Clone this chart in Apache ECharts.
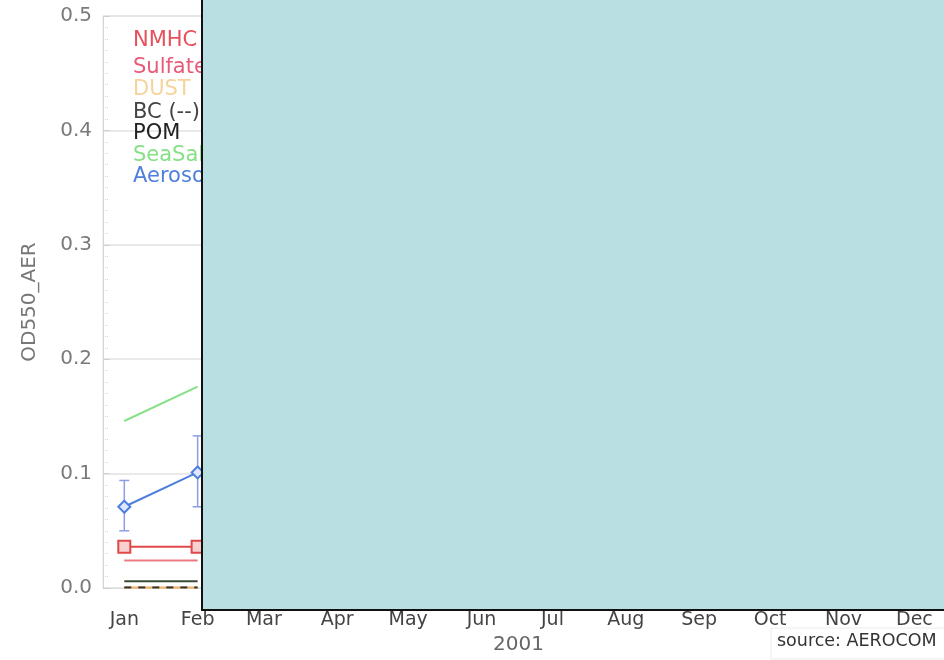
<!DOCTYPE html>
<html>
<head>
<meta charset="utf-8">
<script src="https://cdn.jsdelivr.net/npm/echarts@6/dist/echarts.min.js"></script>
<style>
  html, body { margin: 0; padding: 0; background: #ffffff; }
  #chart { width: 944px; height: 660px; }
</style>
</head>
<body>
<div id="chart"></div>
<script>
// Monthly aerosol optical depth at 550 nm, by component (2001)
const months = ['Jan', 'Feb', 'Mar', 'Apr', 'May', 'Jun', 'Jul', 'Aug', 'Sep', 'Oct', 'Nov', 'Dec'];
const monthDay = [0, 31, 59, 90, 120, 151, 181, 212, 243, 273, 304, 334]; // day of year at month start
const yTicks = [0, 0.1, 0.2, 0.3, 0.4, 0.5];

const legendNames = ['NMHC', 'Sulfate', 'DUST', 'BC (--)', 'POM', 'SeaSalt', 'Aerosol'];
const legendColors = ['#e8505a', '#ea5a78', '#f6d39a', '#444444', '#222222', '#86e086', '#4f7fdc'];

const nmhc = [0.036, 0.036];
const sulfate = [0.024, 0.024];
const dust = [0.0005, 0.0005];
const bc = [0.0005, 0.0005];
const pom = [0.006, 0.006];
const seaSalt = [0.146, 0.176];
const aerosol = [0.071, 0.101];
const aerosolLow = [0.050, 0.071];
const aerosolHigh = [0.094, 0.133];

const pts = vals => vals.map((v, i) => [monthDay[i], v]);
const FONT = '"DejaVu Sans", Verdana, sans-serif';

const chart = echarts.init(document.getElementById('chart'), null, { renderer: 'canvas' });

const legendY = [40, 67, 89, 112, 133, 155, 176];
const legendTexts = legendNames.map((name, i) => ({
  type: 'text',
  left: 133,
  top: legendY[i] - 10,
  z: 10,
  style: {
    text: name,
    fill: legendColors[i],
    font: '21px ' + FONT
  }
}));

const option = {
  animation: false,
  backgroundColor: '#ffffff',
  grid: { left: 103, right: 0, top: 16, bottom: 70, show: true, borderColor: '#e4e4e4', borderWidth: 1 },
  xAxis: {
    type: 'value',
    min: -9,
    max: 346.5,
    splitLine: { show: false },
    axisLine: { show: true, onZero: false, lineStyle: { color: '#dddddd' } },
    axisTick: { show: false },
    axisLabel: {
      customValues: monthDay,
      formatter: v => months[monthDay.indexOf(v)] || '',
      color: '#444444',
      fontSize: 19,
      fontFamily: FONT,
      margin: 23
    },
    name: '2001',
    nameLocation: 'middle',
    nameGap: 47,
    nameTextStyle: { color: '#666666', fontSize: 20, fontFamily: FONT, padding: [0, 10, 0, 0] }
  },
  yAxis: {
    type: 'value',
    min: 0,
    max: 0.5,
    interval: 0.1,
    axisLine: { show: true, onZero: false, lineStyle: { color: '#cfcfcf', type: 'dotted' } },
    axisTick: { show: true, inside: true, length: 7, lineStyle: { color: '#d0d0d0' } },
    minorTick: { show: true, splitNumber: 10, length: 6, lineStyle: { color: '#d8d8d8', type: 'dotted' } },
    splitLine: { show: true, lineStyle: { color: '#e2e2e2', width: 1.5 } },
    axisLabel: {
      formatter: v => v.toFixed(1),
      color: '#7a7a7a',
      fontSize: 20,
      fontFamily: FONT,
      margin: 11
    },
    name: 'OD550_AER',
    nameLocation: 'middle',
    nameGap: 63,
    nameRotate: 90,
    nameTextStyle: { color: '#777777', fontSize: 20, fontFamily: FONT }
  },
  series: [
    {
      name: 'SeaSalt', type: 'line', data: pts(seaSalt), symbol: 'none',
      lineStyle: { color: legendColors[5], width: 2 }
    },
    {
      name: 'POM', type: 'line', data: pts(pom), symbol: 'none',
      lineStyle: { color: '#3a4a30', width: 2 }
    },
    {
      name: 'DUST', type: 'line', data: pts(dust), symbol: 'none',
      lineStyle: { color: '#f0b060', width: 2 }
    },
    {
      name: 'BC (--)', type: 'line', data: pts(bc), symbol: 'none',
      lineStyle: { color: '#333333', width: 2, type: [7, 7] }
    },
    {
      name: 'Sulfate', type: 'line', data: pts(sulfate), symbol: 'none',
      lineStyle: { color: '#ec7a86', width: 2 }
    },
    {
      name: 'NMHC', type: 'line', data: pts(nmhc),
      symbol: 'rect', symbolSize: 12,
      itemStyle: { color: '#f9d0d0', borderColor: '#e04848', borderWidth: 2 },
      lineStyle: { color: '#e04848', width: 2 }
    },
    {
      name: 'AerosolRange', type: 'custom',
      data: monthDay.slice(0, aerosol.length).map((d, i) => [d, aerosolLow[i], aerosolHigh[i]]),
      renderItem: (params, api) => {
        const x = api.value(0);
        const top = api.coord([x, api.value(2)]);
        const bot = api.coord([x, api.value(1)]);
        const w = 5;
        const style = { stroke: '#8e9ee2', lineWidth: 1.5 };
        return {
          type: 'group',
          children: [
            { type: 'line', shape: { x1: top[0], y1: top[1], x2: bot[0], y2: bot[1] }, style },
            { type: 'line', shape: { x1: top[0] - w, y1: top[1], x2: top[0] + w, y2: top[1] }, style },
            { type: 'line', shape: { x1: bot[0] - w, y1: bot[1], x2: bot[0] + w, y2: bot[1] }, style }
          ]
        };
      },
      z: 3
    },
    {
      name: 'Aerosol', type: 'line', data: pts(aerosol),
      symbol: 'diamond', symbolSize: [12, 12],
      itemStyle: { color: '#dfe8ff', borderColor: '#4f7fdc', borderWidth: 2 },
      lineStyle: { color: '#4f7fdc', width: 2 },
      z: 4
    }
  ],
  graphic: [
    ...legendTexts,
    {
      type: 'rect',
      shape: { x: 771, y: 628, width: 180, height: 31 },
      style: { fill: '#ffffff', stroke: '#ececec', lineWidth: 1 },
      z: 50
    },
    {
      type: 'text',
      left: 777,
      top: 632,
      z: 51,
      style: { text: 'source: AEROCOM', fill: '#333333', font: '17.5px ' + FONT }
    },
    {
      type: 'rect',
      shape: { x: 202, y: -10, width: 760, height: 620 },
      style: { fill: '#badfe2', stroke: '#111111', lineWidth: 2 },
      z: 100
    }
  ]
};

chart.setOption(option);
</script>
</body>
</html>
